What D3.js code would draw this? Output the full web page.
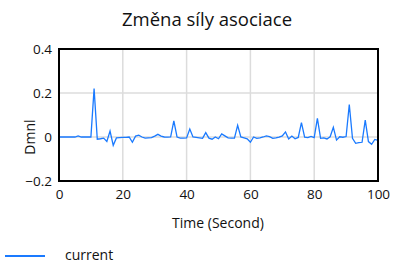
<!DOCTYPE html>
<html><head><meta charset="utf-8">
<script src="https://cdn.jsdelivr.net/npm/d3@7"></script>
<style>body{margin:0;background:#fff}svg{display:block;font-family:"Open Sans",sans-serif}</style>
</head><body><svg id="c" width="400" height="270"></svg>
<script>
const title = "Změna síly asociace";
const xLabel = "Time (Second)";
const yLabel = "Dmnl";
const seriesName = "current";
const xTicks = [0, 20, 40, 60, 80, 100];
const yTicks = [-0.2, 0, 0.2, 0.4];
const times = d3.range(0, 101);
const values = [
 0, 0, 0, 0, 0, 0, 0.005, 0, 0, 0,
 0, 0.22, -0.01, -0.008, -0.005, -0.02, 0.027, -0.038, -0.004, -0.003,
 -0.002, -0.002, 0.0, -0.024, 0.004, 0.008, 0.0, -0.005, -0.004, -0.003,
 0.004, 0.012, 0.004, 0.0, -0.001, 0.0, 0.073, 0.0, -0.005, -0.005,
 -0.004, 0.036, 0.0, -0.002, -0.004, -0.006, 0.02, -0.005, -0.01, 0.0,
 -0.008, 0.014, 0.005, -0.004, -0.005, -0.005, 0.053, 0.0, -0.004, -0.008,
 -0.024, 0.0, -0.006, -0.004, 0.0, 0.005, 0.002, -0.006, -0.004, -0.001,
 0.005, 0.023, -0.009, 0.004, -0.008, -0.002, 0.065, -0.001, -0.003, 0.003,
 -0.003, 0.085, -0.006, -0.004, -0.009, 0.001, 0.044, -0.014, 0.001, -0.001,
 0.002, 0.148, -0.006, -0.029, -0.026, -0.024, 0.077, -0.021, -0.033, -0.011,
 -0.015
];

const svg = d3.select("#c");
const L = 59, R = 378, T = 49, B = 181;
const x = d3.scaleLinear().domain([0, 100]).range([L, R]);
const y = d3.scaleLinear().domain([-0.2, 0.4]).range([B, T]);

// grid
svg.append("g").selectAll("line").data(xTicks.slice(1, -1)).join("line")
  .attr("x1", d => x(d)).attr("x2", d => x(d)).attr("y1", T).attr("y2", B)
  .attr("stroke", "#dcdcdc").attr("stroke-width", 1.5);
svg.append("g").selectAll("line").data(yTicks.slice(1, -1)).join("line")
  .attr("x1", L).attr("x2", R).attr("y1", d => y(d)).attr("y2", d => y(d))
  .attr("stroke", "#dcdcdc").attr("stroke-width", 1.5);

// line
svg.append("path").datum(times.map((t, i) => [t, values[i]]))
  .attr("fill", "none").attr("stroke", "#1a7aff").attr("stroke-width", 1.3)
  .attr("d", d3.line().x(d => x(d[0])).y(d => y(d[1])));

// frame
svg.append("rect").attr("x", L).attr("y", T).attr("width", R - L).attr("height", B - T)
  .attr("fill", "none").attr("stroke", "#000").attr("stroke-width", 2);

// axes labels
const xa = d3.axisBottom(x).tickValues(xTicks).tickSize(0).tickPadding(8).tickFormat(d3.format("d"));
const gx = svg.append("g").attr("transform", `translate(0,${B})`).call(xa);
gx.select(".domain").remove();
gx.selectAll("text").attr("font-size", 13.5).attr("fill", "#111").attr("font-family", "Open Sans");

const ya = d3.axisLeft(y).tickValues(yTicks).tickSize(0).tickPadding(7).tickFormat(d => d === 0 ? "0" : d3.format(".1f")(d));
const gy = svg.append("g").attr("transform", `translate(${L},0)`).call(ya);
gy.select(".domain").remove();
gy.selectAll("text").attr("font-size", 13.5).attr("fill", "#111").attr("font-family", "Open Sans");

svg.append("text").attr("x", 207).attr("y", 26).attr("text-anchor", "middle")
  .attr("font-size", 18.5).attr("fill", "#111").text(title);
svg.append("text").attr("x", 218).attr("y", 228).attr("text-anchor", "middle")
  .attr("font-size", 14).attr("fill", "#111").text(xLabel);
svg.append("text").attr("transform", "translate(35,137) rotate(-90)").attr("text-anchor", "middle")
  .attr("font-size", 14).attr("fill", "#111").text(yLabel);

// legend
svg.append("line").attr("x1", 5).attr("x2", 45).attr("y1", 256).attr("y2", 256)
  .attr("stroke", "#1a7aff").attr("stroke-width", 2);
svg.append("text").attr("x", 65).attr("y", 260).attr("font-size", 14).attr("fill", "#111").text(seriesName);
</script></body></html>
